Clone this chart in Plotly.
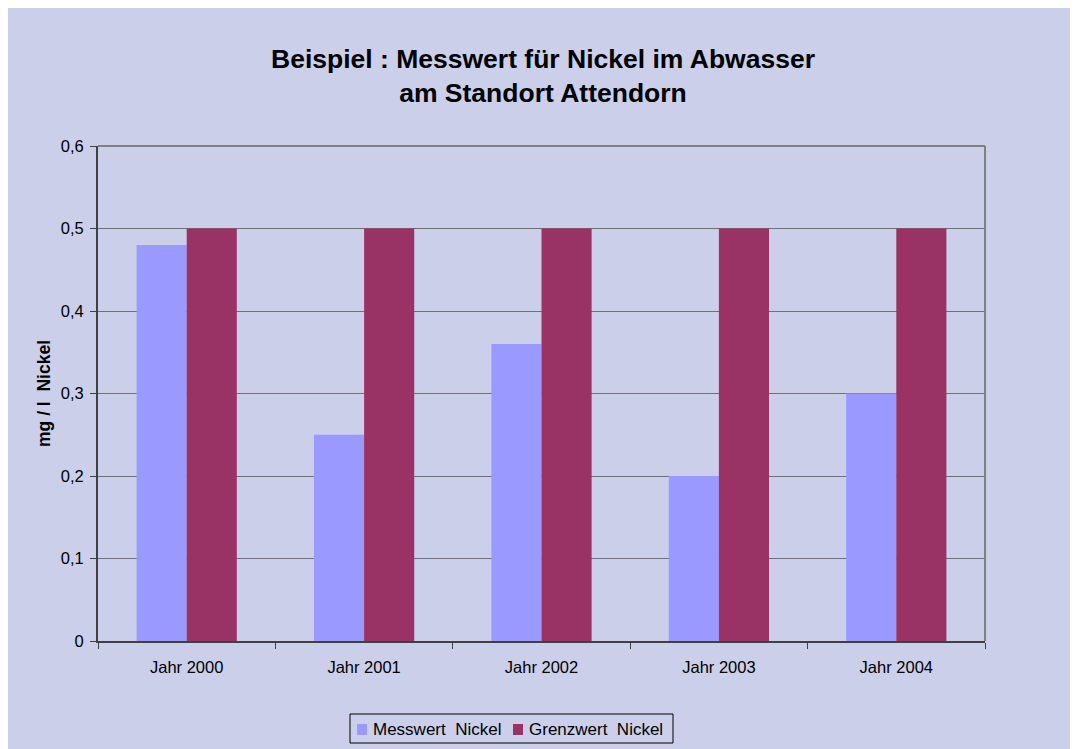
import plotly.graph_objects as go

categories = ["Jahr 2000", "Jahr 2001", "Jahr 2002", "Jahr 2003", "Jahr 2004"]
messwert = [0.48, 0.25, 0.36, 0.20, 0.30]
grenzwert = [0.5, 0.5, 0.5, 0.5, 0.5]
series_names = ["Messwert  Nickel", "Grenzwert  Nickel"]
series_colors = ["#9999ff", "#993366"]
y_ticks = [0, 0.1, 0.2, 0.3, 0.4, 0.5, 0.6]
y_labels = ["0", "0,1", "0,2", "0,3", "0,4", "0,5", "0,6"]

# page offset (body margin) of the rendered figure
OX, OY = 8, 8
W, H = 1078 - OX, 749 - OY
# plot area in page pixels
L, R, T, B = 98, 985, 146, 641
pw, ph = R - L, B - T

def px(x):
    return (x - L) / pw

def py(y):
    return (B - y) / ph

font = "Liberation Sans, Arial, sans-serif"

fig = go.Figure()
for name, vals, col in zip(series_names, [messwert, grenzwert], series_colors):
    fig.add_trace(go.Bar(x=categories, y=vals, name=name,
                         marker=dict(color=col, line=dict(width=0))))

# manual legend (box, swatches, labels)
shapes = [
    dict(type="rect", xref="paper", yref="paper", layer="above",
         x0=px(350), x1=px(673), y0=py(743), y1=py(714),
         line=dict(color="black", width=1), fillcolor="rgba(0,0,0,0)"),
    dict(type="line", xref="paper", yref="paper", layer="above",
         x0=0, x1=1, y0=1, y1=1, line=dict(color="#808080", width=2)),
    dict(type="line", xref="paper", yref="paper", layer="above",
         x0=1, x1=1, y0=0, y1=1, line=dict(color="#808080", width=2)),
]
annotations = []
sw_x = [357, 513]
for name, col, sx in zip(series_names, series_colors, sw_x):
    shapes.append(dict(type="rect", xref="paper", yref="paper", layer="above",
                       x0=px(sx), x1=px(sx + 10), y0=py(735), y1=py(724),
                       fillcolor=col, line=dict(width=0)))
    annotations.append(dict(text=name, xref="paper", yref="paper",
                            x=px(sx + 14), y=py(729.5), xanchor="left", yanchor="middle",
                            showarrow=False, font=dict(family=font, size=17, color="black")))

fig.update_layout(
    width=W, height=H,
    margin=dict(l=L - OX, r=1078 - R, t=T - OY, b=749 - B, autoexpand=False),
    paper_bgcolor="#cbcfea",
    plot_bgcolor="rgba(0,0,0,0)",
    barmode="group",
    bargap=0.435,
    bargroupgap=0,
    showlegend=False,
    font=dict(family=font, size=16, color="black"),
    title=dict(text="<b>Beispiel : Messwert für Nickel im Abwasser<br>am Standort Attendorn</b>",
               x=px(543), xref="paper", xanchor="center",
               y=1 - (68 - OY) / H, yref="container", yanchor="middle",
               font=dict(family=font, size=26.5, color="black")),
    xaxis=dict(showgrid=False, showline=True, linecolor="#404040", linewidth=1.5,
               ticks="outside", tickson="boundaries", ticklen=6, tickcolor="#404040",
               ticklabelstandoff=10, tickfont=dict(size=16.5)),
    yaxis=dict(range=[0, 0.6], tickvals=y_ticks, ticktext=y_labels,
               showgrid=True, gridcolor="#707070", gridwidth=1.2,
               showline=True, linecolor="#404040", linewidth=2,
               ticks="outside", ticklen=6, tickcolor="#404040",
               ticklabelstandoff=3,
               zeroline=False, tickfont=dict(size=16.5),
               title=dict(text="<b>mg / l  Nickel</b>", font=dict(size=17.5), standoff=6)),
    shapes=shapes,
    annotations=annotations,
)

fig.write_html("out.html")
